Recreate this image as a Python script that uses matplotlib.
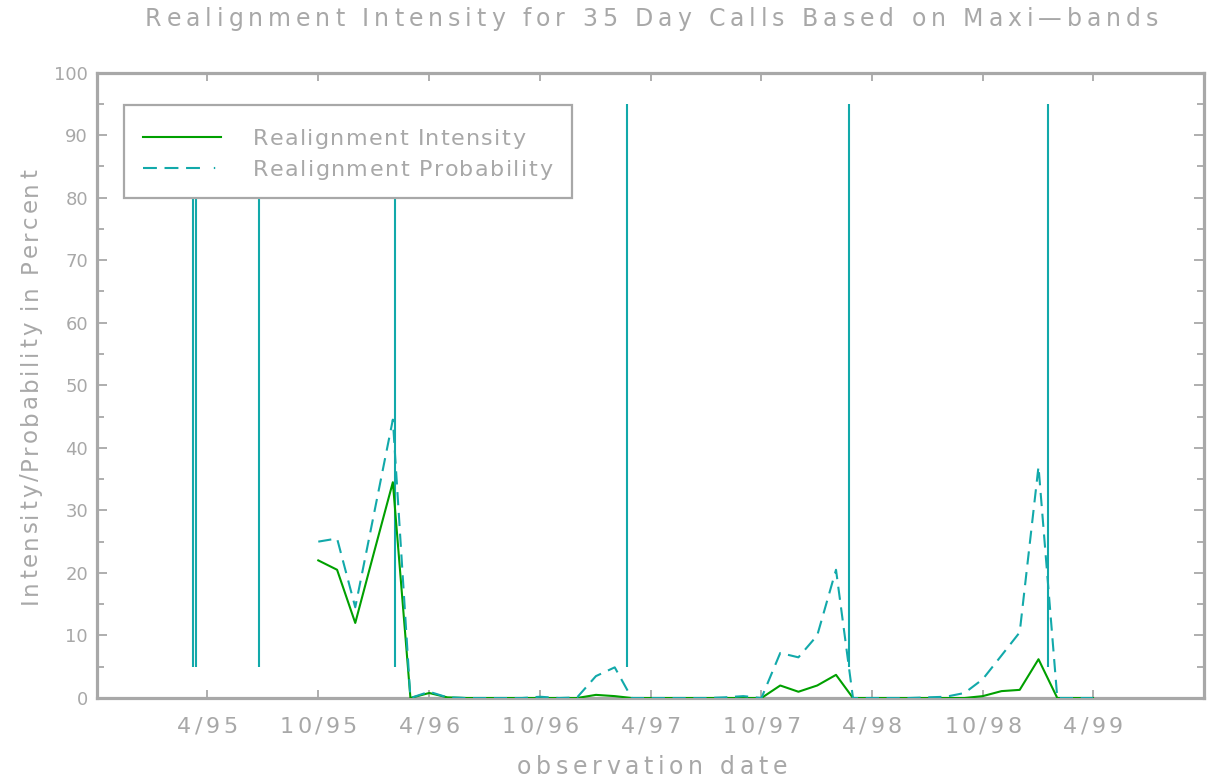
import numpy as np
import matplotlib
matplotlib.use('Agg')
import matplotlib.pyplot as plt
from matplotlib.font_manager import FontProperties
from matplotlib.patches import Rectangle
from matplotlib.lines import Line2D

# ---------------- data ----------------
months = ['1995-10', '1995-11', '1995-12', '1996-01', '1996-02', '1996-03', '1996-04',
          '1996-05', '1996-06', '1996-07', '1996-08', '1996-09', '1996-10', '1996-11',
          '1996-12', '1997-01', '1997-02', '1997-03', '1997-04', '1997-05', '1997-06',
          '1997-07', '1997-08', '1997-09', '1997-10', '1997-11', '1997-12', '1998-01',
          '1998-02', '1998-03', '1998-04', '1998-05', '1998-06', '1998-07', '1998-08',
          '1998-09', '1998-10', '1998-11', '1998-12', '1999-01', '1999-02', '1999-03',
          '1999-04']
intensity = [22.0, 20.5, 12.0, 23.3, 34.5, 0.0, 0.8,
             0.1, 0.0, 0.0, 0.0, 0.0, 0.0, 0.0,
             0.0, 0.5, 0.3, 0.0, 0.0, 0.0, 0.0,
             0.0, 0.0, 0.0, 0.0, 2.0, 1.0, 2.0,
             3.7, 0.0, 0.0, 0.0, 0.0, 0.0, 0.0,
             0.0, 0.3, 1.1, 1.3, 6.2, 0.0, 0.0,
             0.0]
probability = [25.0, 25.5, 14.5, 29.5, 44.5, 0.0, 1.0,
               0.1, 0.0, 0.0, 0.0, 0.0, 0.2, 0.0,
               0.1, 3.5, 4.9, 0.0, 0.0, 0.0, 0.0,
               0.0, 0.1, 0.3, 0.0, 7.2, 6.5, 10.0,
               20.5, 0.0, 0.0, 0.0, 0.0, 0.1, 0.2,
               0.8, 3.0, 6.8, 10.5, 37.0, 0.0, 0.0,
               0.0]
event_dates = ['1995-03-09', '1995-03-13', '1995-06-25', '1996-02-04',
               '1997-02-21', '1998-02-23', '1999-01-16']
event_low, event_high = 5, 95
tick_dates = ['1995-04-01', '1995-10-01', '1996-04-01', '1996-10-01', '1997-04-01',
              '1997-10-01', '1998-04-01', '1998-10-01', '1999-04-01']
tick_labels = ['4/95', '10/95', '4/96', '10/96', '4/97', '10/97', '4/98', '10/98', '4/99']
y_ticks = list(range(0, 101, 10))
title = 'Realignment Intensity for 35 Day Calls Based on Maxi\u2014bands'
xlabel = 'observation date'
ylabel = 'Intensity/Probability in Percent'
legend_labels = ['Realignment Intensity', 'Realignment Probability']

# ---------------- style ----------------
W, H = 1214, 784
GREEN = '#00a000'
TEAL = '#12a9aa'
GRAY = '#a8a8a8'
TXT = '#a8a8a8'
FAMILY = 'DejaVu Sans'
plt.rcParams['lines.scale_dashes'] = False

fig = plt.figure(figsize=(W / 100, H / 100), dpi=100)
AX_L, AX_R, AX_T, AX_B = 97, 1204, 72.5, 698
ax = fig.add_axes([AX_L / W, 1 - AX_B / H, (AX_R - AX_L) / W, (AX_B - AX_T) / H])

dates = np.array([m + '-01' for m in months], dtype='datetime64[D]')
ax.plot(dates, intensity, color=GREEN, lw=1.5, zorder=3)
ax.plot(dates, probability, color=TEAL, lw=1.5, dashes=(9.5, 5.5), zorder=4)
ax.vlines(np.array(event_dates, dtype='datetime64[D]'), event_low, event_high,
          color=TEAL, lw=1.5, zorder=2)

ax.set_xlim(np.datetime64('1994-10-01'), np.datetime64('1999-10-01'))
ax.set_ylim(0, 100)
ax.set_xticks(np.array(tick_dates, dtype='datetime64[D]'))
ax.set_xticklabels([])
ax.set_yticks(y_ticks)
ax.set_yticks(list(range(5, 100, 10)), minor=True)
ax.set_yticklabels([str(v) for v in y_ticks])
ax.tick_params(axis='both', which='both', direction='in', top=True, right=True,
               color=GRAY, width=1.3, labelcolor=TXT, labelsize=13)
ax.tick_params(axis='x', which='major', length=6)
ax.tick_params(axis='y', which='major', length=7.2, pad=6.5)
ax.tick_params(axis='y', which='minor', length=5)
for lab in ax.get_yticklabels():
    lab.set_family(FAMILY)
for sp in ax.spines.values():
    sp.set_color(GRAY)
    sp.set_linewidth(2.3)

# legend box (manual, so the spacing matches)
def ax_xy(px, py):
    return (px - AX_L) / (AX_R - AX_L), (AX_B - py) / (AX_B - AX_T)

x0, y0 = ax_xy(124, 198)
x1, y1 = ax_xy(572, 105)
ax.add_patch(Rectangle((x0, y0), x1 - x0, y1 - y0, transform=ax.transAxes,
                       facecolor='white', edgecolor=GRAY, lw=1.6, zorder=6))
hx0, hy0 = ax_xy(143, 137)
hx1, _ = ax_xy(221, 137)
ax.add_line(Line2D([hx0, hx1], [hy0, hy0], transform=ax.transAxes, color=GREEN,
                   lw=1.5, zorder=7))
_, hy1 = ax_xy(143, 168)
ax.add_line(Line2D([hx0, hx1], [hy1, hy1], transform=ax.transAxes, color=TEAL,
                   lw=1.5, dashes=(10, 5.5, 10, 5.5, 10, 10, 1, 20), zorder=7))

# ---------------- tracked text helper ----------------
renderer = fig.canvas.get_renderer()


def advances(s, fp):
    out = []
    for ch in s:
        if ch == ' ':
            w = (renderer.get_text_width_height_descent('a a', fp, ismath=False)[0]
                 - renderer.get_text_width_height_descent('aa', fp, ismath=False)[0])
        else:
            w = renderer.get_text_width_height_descent(ch, fp, ismath=False)[0]
        out.append(w)
    return out


def tracked(s, x, y, size, width, ha='center', rotation=0, zorder=10):
    fp = FontProperties(family=FAMILY, size=size)
    adv = advances(s, fp)
    natural = sum(adv)
    extra = (width - natural) / (len(s) - 1) if len(s) > 1 else 0
    total = natural + extra * (len(s) - 1)
    if rotation == 0:
        pos = {'center': x - total / 2, 'left': x, 'right': x - total}[ha]
        for ch, w in zip(s, adv):
            fig.text(pos / W, 1 - y / H, ch, fontproperties=fp, color=TXT,
                     ha='left', va='baseline', zorder=zorder)
            pos += w + extra
    else:
        pos = y + total / 2
        for ch, w in zip(s, adv):
            fig.text(x / W, 1 - pos / H, ch, fontproperties=fp, color=TXT,
                     ha='left', va='baseline', rotation=90, rotation_mode='anchor',
                     zorder=zorder)
            pos -= w + extra


tracked(title, 651.5, 26, 17, 1013)
tracked(xlabel, 652, 774, 17, 270)
tracked(ylabel, 37, 387, 16.5, 435, rotation=90)
tracked(legend_labels[0], 253, 145, 16, 272, ha='left')
tracked(legend_labels[1], 253, 176, 16, 299, ha='left')

# x tick labels
xt = ax.transData.transform(np.column_stack([
    matplotlib.dates.date2num(np.array(tick_dates, dtype='datetime64[D]')),
    np.zeros(len(tick_dates))]))
for (px, _), lab in zip(xt, tick_labels):
    tracked(lab, px, 733, 16, 17 * len(lab) - 8)

fig.savefig('out.png', dpi=100, facecolor='white')
